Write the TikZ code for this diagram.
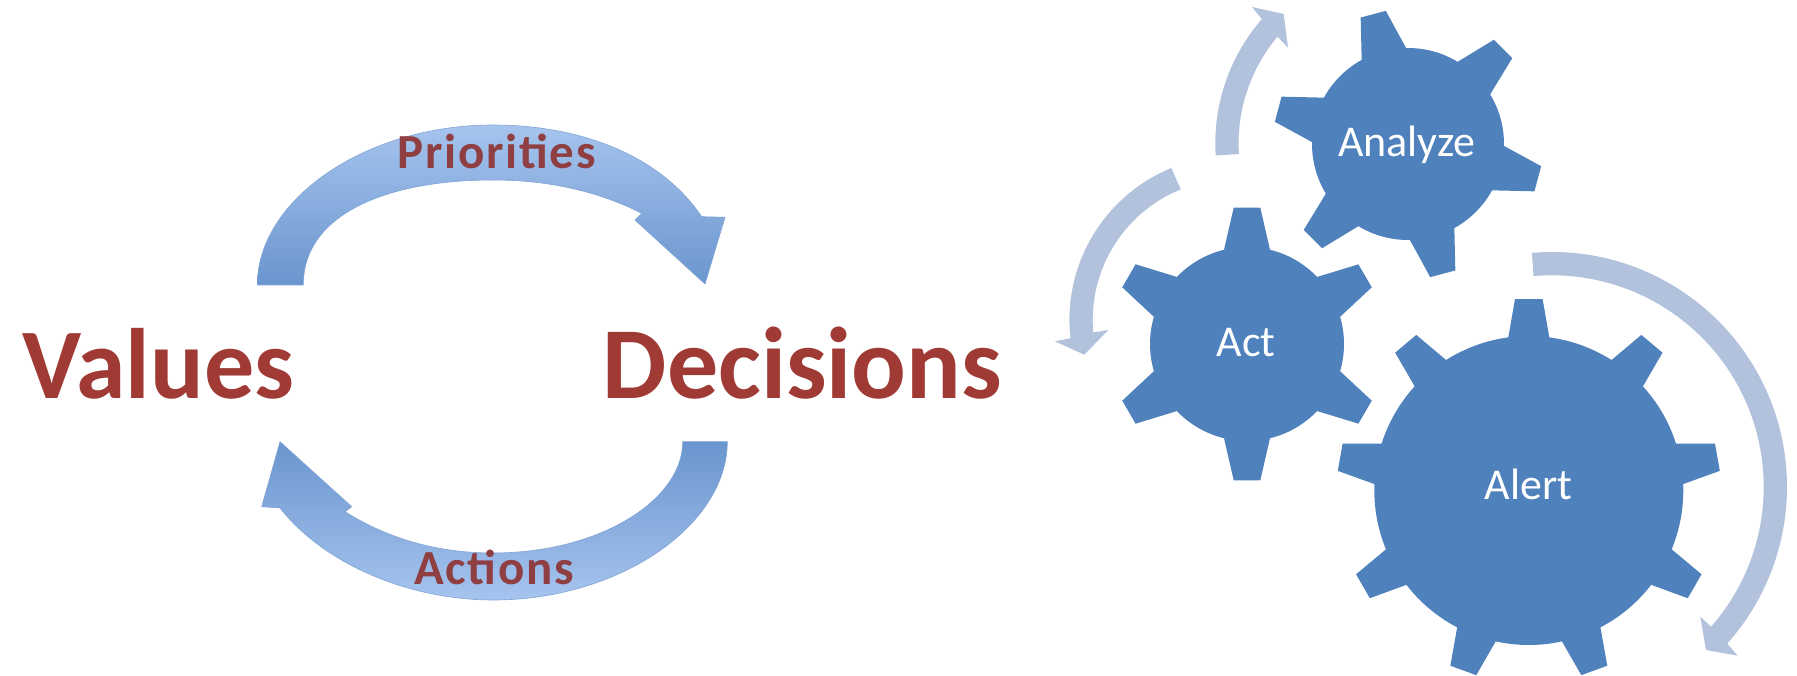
\documentclass[tikz,border=0pt]{standalone}
\usepackage{fontspec}
\setmainfont{Carlito}
\definecolor{gearblue}{HTML}{4F81BD}
\definecolor{cyclearrow}{HTML}{B2C2DD}
\definecolor{darkred}{HTML}{A03A34}
\definecolor{mutedred}{HTML}{8F3F42}
\definecolor{bandlight}{HTML}{A6C4EE}
\definecolor{banddark}{HTML}{6A95CE}
\tikzset{
  geartext/.style={text=white,inner sep=0pt,anchor=base,font=\fontsize{44}{52}\selectfont},
  bigword/.style={text=darkred,inner sep=0pt,anchor=base,font=\bfseries\fontsize{100}{120}\selectfont},
  smallword/.style={text=mutedred,inner sep=0pt,anchor=base,font=\bfseries\fontsize{49}{60}\selectfont\addfontfeature{LetterSpace=3.5}},
  cycleband/.style={fill=cyclearrow,draw=none},
  bandtop/.style={top color=bandlight,bottom color=banddark,draw=banddark!85,line width=0.6pt},
  bandbottom/.style={top color=banddark,bottom color=bandlight,draw=banddark!85,line width=0.6pt}
}
\newcommand{\drawgear}[8]{%
  \pgfmathsetmacro\gA{asin(#7/#3)}%
  \pgfmathsetmacro\gT{asin(#8/#4)}%
  \pgfmathsetmacro\gS{360/#5}%
  \pgfmathtruncatemacro\gN{#5-1}%
  \fill[gearblue,shift={(#1,#2)}] (#6-\gA:#3)
    \foreach \i in {0,...,\gN}{
      -- (#6+\i*\gS-\gT:#4) -- (#6+\i*\gS+\gT:#4) -- (#6+\i*\gS+\gA:#3)
      arc[start angle=#6+\i*\gS+\gA,end angle=#6+\i*\gS+\gS-\gA,radius=#3]
      -- (#6+\i*\gS+\gS-\gA:#3)
    } -- cycle;%
}
\begin{document}
\begin{tikzpicture}[x=1pt,y=1pt,yscale=-1]
\useasboundingbox[fill=white] (0,0) rectangle (1797,676);
% left cycle
\path[bandtop] (257.3,285) .. controls (257.3,200) and (365,125) .. (493,125)
  .. controls (580,125) and (660,155) .. (701.7,216.7)
  -- (725,217.3) -- (705,284) -- (635,220) -- (641.7,213.3)
  .. controls (600,192) and (550,180) .. (493,180)
  .. controls (385,180) and (303.3,215) .. (303.3,285) -- cycle;
\path[bandbottom] (727.3,441.7) .. controls (727.3,525) and (620,600) .. (493.3,600)
  .. controls (410,600) and (325,565) .. (280,508)
  -- (261.7,506.7) -- (280,441.7) -- (351.7,506.7) -- (345,511.7)
  .. controls (390,540) and (440,553) .. (493,553)
  .. controls (600,553) and (682.7,500) .. (682.7,441.7) -- cycle;
\node[bigword] (values) at (158.5,398.5) {Values};
\node[bigword,font=\bfseries\fontsize{102}{120}\selectfont] (decisions) at (802.5,398.5) {Decisions};
\node[smallword] (priorities) at (496.7,169) {Priorities};
\node[smallword] (actions) at (494,584) {Actions};
% gears
\drawgear{1408}{144}{96}{135}{6}{-105}{23}{13}
\drawgear{1247}{344}{97}{137}{6}{-90}{23}{13.3}
\drawgear{1528.8}{490.5}{154.5}{192}{9}{-90}{20.5}{13.8}
\node[geartext] (analyze) at (1407,156.7) {Analyze};
\node[geartext] (act) at (1246.3,356.7) {Act};
\node[geartext] (alert) at (1528.5,499.3) {Alert};
% cycle arrows
\coordinate (alertc) at (1552,487);
\coordinate (actc) at (1233.7,320);
\coordinate (anac) at (1404.3,143.3);
\path[cycleband] ([shift={(-94.9:235)}]alertc) arc[start angle=-94.9,end angle=41.8,radius=235]
  -- (1737.7,655.7) -- (1706,650) -- (1700.3,616.7) -- ([shift={(41.3:211.7)}]alertc)
  arc[start angle=41.3,end angle=-95,radius=211.7] -- cycle;
\path[cycleband] ([shift={(247.7:164.3)}]actc) arc[start angle=247.7,end angle=173.6,radius=164.3]
  -- (1055,341.3) -- (1084.3,354.7) -- (1108.3,330) -- ([shift={(174.9:141)}]actc)
  arc[start angle=174.9,end angle=247.9,radius=141] -- cycle;
\path[cycleband] ([shift={(176.3:189)}]anac) arc[start angle=176.3,end angle=221.1,radius=189]
  -- (1252,7) -- (1283.7,14) -- (1288,47.7) -- ([shift={(220.1:165.7)}]anac)
  arc[start angle=220.1,end angle=176.3,radius=165.7] -- cycle;
\end{tikzpicture}
\end{document}
